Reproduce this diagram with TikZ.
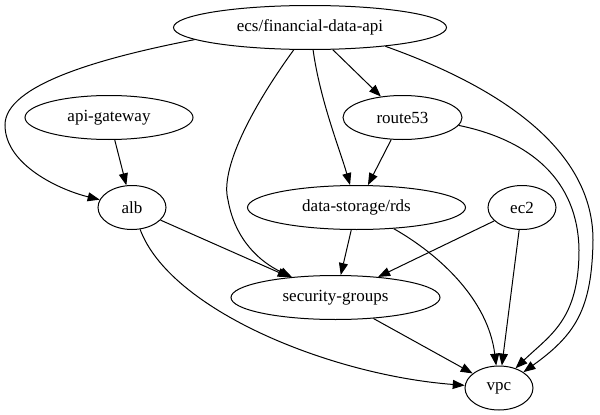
\documentclass[tikz,border=0pt]{standalone}
\usepackage{fontspec}
\setmainfont{Liberation Serif}
\usetikzlibrary{shapes.geometric,arrows.meta}
\begin{document}
\begin{tikzpicture}[x=1pt,y=-1pt,
  nd/.style={draw, ellipse, line width=1pt, inner sep=0pt, minimum height=44pt,
    font=\fontsize{17}{20}\selectfont},
  edge/.style={line width=1pt, -{Triangle[length=12pt,width=9pt]}}]
\fill[white] (0,0) rectangle (600,415);
\useasboundingbox (0,0) rectangle (600,415);
\node[nd, minimum width=273pt] (ecs) at (310,27.5) {ecs/financial-data-api};
\node[nd, minimum width=168pt] (api) at (109,117.5) {api-gateway};
\node[nd, minimum width=119pt] (route53) at (402.5,117.5) {route53};
\node[nd, minimum width=68pt] (alb) at (132,207.5) {alb};
\node[nd, minimum width=218pt] (rds) at (356.5,207.5) {data-storage/rds};
\node[nd, minimum width=68pt] (ec2) at (522,207.5) {ec2};
\node[nd, minimum width=209pt] (sg) at (335.5,297.5) {security-groups};
\node[nd, minimum width=68pt] (vpc) at (499,388) {vpc};
\coordinate (m1) at (5,125);
\coordinate (m2) at (228,200);
\coordinate (m3) at (593,240);
\coordinate (m4) at (579,250);
% edges
\draw[edge] (ecs.186) .. controls (100,58) and (5,85) .. (m1)
  .. controls (5,165) and (60,190) .. (alb);
\draw[edge] (ecs) .. controls (250,110) and (220,170) .. (m2)
  .. controls (235,240) and (260,262) .. (sg);
\draw[edge] (ecs) .. controls (320,100) and (340,150) .. (rds);
\draw[edge] (ecs) -- (route53);
\draw[edge] (ecs.-14) .. controls (480,80) and (593,140) .. (m3)
  .. controls (592,310) and (575,335) .. (vpc.33);
\draw[edge] (api) -- (alb);
\draw[edge] (route53) -- (rds);
\draw[edge] (route53.-8) .. controls (530,140) and (578,180) .. (m4)
  .. controls (579,320) and (550,335) .. (vpc.50);
\draw[edge] (alb) -- (sg);
\draw[edge] (alb) .. controls (170,310) and (330,375) .. (vpc);
\draw[edge] (rds) -- (sg);
\draw[edge] (rds) .. controls (440,255) and (488,300) .. (vpc);
\draw[edge] (ec2) -- (sg);
\draw[edge] (ec2) -- (vpc);
\draw[edge] (sg) -- (vpc);
\end{tikzpicture}
\end{document}
